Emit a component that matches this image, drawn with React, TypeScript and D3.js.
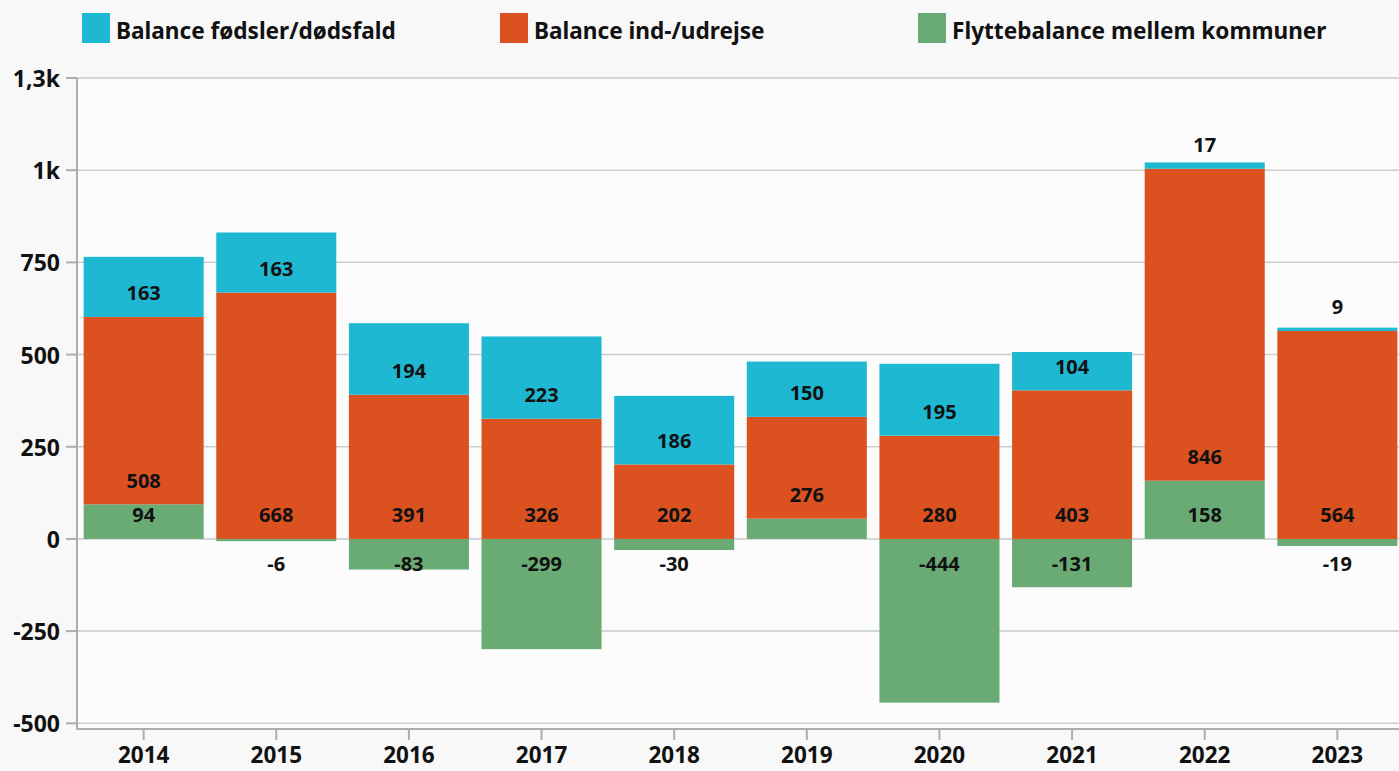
import { useEffect, useRef } from 'react'
import * as d3 from 'd3'

const years = ['2014', '2015', '2016', '2017', '2018', '2019', '2020', '2021', '2022', '2023']
const fodsler = [163, 163, 194, 223, 186, 150, 195, 104, 17, 9]
const indUdrejse = [508, 668, 391, 326, 202, 276, 280, 403, 846, 564]
const flytte = [94, -6, -83, -299, -30, 55, -444, -131, 158, -19]
const yTicks = [-500, -250, 0, 250, 500, 750, 1000, 1250]

const seriesNames = ['Flyttebalance mellem kommuner', 'Balance ind-/udrejse', 'Balance fødsler/dødsfald']
const seriesColors = ['#6aab75', '#db5220', '#1fb8d3']
const legendOrder = [2, 1, 0]

const W = 1399
const H = 771
const FONT = '"Noto Sans", "Open Sans", sans-serif'

const fmtTick = (v: number) => {
  if (Math.abs(v) >= 1000) {
    const k = Math.round(v / 100) / 10
    return (Number.isInteger(k) ? String(k) : k.toFixed(1).replace('.', ',')) + 'k'
  }
  return String(v)
}

export default function App() {
  const svgRef = useRef<SVGSVGElement>(null)

  useEffect(() => {
    if (!svgRef.current) return
    const svg = d3.select(svgRef.current)
    svg.selectAll('*').remove()

    const plot = { left: 77, top: 78, right: 1404, bottom: 729 }

    const x = d3.scaleBand<string>()
      .domain(years)
      .range([plot.left, plot.right])
      .paddingInner(0.095)
      .paddingOuter(0.05)

    const y = d3.scaleLinear()
      .domain([-500, 1250])
      .range([723.3, plot.top])

    svg.append('rect').attr('width', W).attr('height', H).attr('fill', '#f8f8f8')
    svg.append('rect')
      .attr('x', plot.left).attr('y', plot.top)
      .attr('width', W - plot.left).attr('height', plot.bottom - plot.top)
      .attr('fill', '#fcfcfc')

    // gridlines
    svg.append('g')
      .selectAll('line')
      .data(yTicks)
      .join('line')
      .attr('x1', plot.left).attr('x2', W)
      .attr('y1', d => y(d)).attr('y2', d => y(d))
      .attr('stroke', '#c9cdd1')
      .attr('stroke-width', 1.5)

    // stacked data
    const rows = years.map((yr, i) => ({ yr, vals: [flytte[i], indUdrejse[i], fodsler[i]] }))
    const segs: { yr: string; s: number; v: number; y0: number; y1: number; outer: boolean }[] = []
    rows.forEach(r => {
      let pos = 0
      let neg = 0
      const list: typeof segs = []
      r.vals.forEach((v, s) => {
        if (v >= 0) {
          list.push({ yr: r.yr, s, v, y0: pos, y1: pos + v, outer: false })
          pos += v
        } else {
          list.push({ yr: r.yr, s, v, y0: neg, y1: neg + v, outer: false })
          neg += v
        }
      })
      const lastPos = [...list].reverse().find(d => d.v >= 0)
      const lastNeg = [...list].reverse().find(d => d.v < 0)
      if (lastPos) lastPos.outer = true
      if (lastNeg) lastNeg.outer = true
      segs.push(...list)
    })

    svg.append('g')
      .selectAll('rect')
      .data(segs)
      .join('rect')
      .attr('x', d => x(d.yr)!)
      .attr('width', x.bandwidth())
      .attr('y', d => Math.min(y(d.y0), y(d.y1)))
      .attr('height', d => Math.abs(y(d.y0) - y(d.y1)))
      .attr('fill', d => seriesColors[d.s])

    // data labels at segment base
    svg.append('g')
      .selectAll('text')
      .data(segs.filter(d => d.outer || Math.abs(y(d.y0) - y(d.y1)) >= 28))
      .join('text')
      .attr('x', d => x(d.yr)! + x.bandwidth() / 2)
      .attr('y', d => d.v >= 0 ? y(d.y0) - 24 : y(d.y0) + 25)
      .attr('text-anchor', 'middle')
      .attr('dominant-baseline', 'central')
      .attr('font-family', FONT)
      .attr('font-weight', 700)
      .attr('font-size', 20)
      .attr('fill', '#111')
      .text(d => String(d.v))

    // y axis
    const ya = svg.append('g')
    ya.append('line')
      .attr('x1', plot.left).attr('x2', plot.left)
      .attr('y1', plot.top).attr('y2', plot.bottom)
      .attr('stroke', '#a9aeb3').attr('stroke-width', 2)
    ya.selectAll('line.t')
      .data(yTicks)
      .join('line')
      .attr('class', 't')
      .attr('x1', 66).attr('x2', plot.left)
      .attr('y1', d => y(d)).attr('y2', d => y(d))
      .attr('stroke', '#a9aeb3').attr('stroke-width', 2)
    ya.selectAll('text')
      .data(yTicks)
      .join('text')
      .attr('x', 60)
      .attr('y', d => y(d))
      .attr('text-anchor', 'end')
      .attr('dominant-baseline', 'central')
      .attr('font-family', FONT)
      .attr('font-weight', 700)
      .attr('font-size', 23)
      .attr('fill', '#111')
      .text(d => fmtTick(d))

    // x axis
    const xa = svg.append('g')
    xa.append('line')
      .attr('x1', plot.left - 1).attr('x2', W)
      .attr('y1', plot.bottom).attr('y2', plot.bottom)
      .attr('stroke', '#a9aeb3').attr('stroke-width', 2)
    xa.selectAll('line.t')
      .data(years)
      .join('line')
      .attr('class', 't')
      .attr('x1', d => x(d)! + x.bandwidth() / 2).attr('x2', d => x(d)! + x.bandwidth() / 2)
      .attr('y1', plot.bottom).attr('y2', plot.bottom + 11)
      .attr('stroke', '#a9aeb3').attr('stroke-width', 2)
    xa.selectAll('text')
      .data(years)
      .join('text')
      .attr('x', d => x(d)! + x.bandwidth() / 2)
      .attr('y', 754)
      .attr('text-anchor', 'middle')
      .attr('dominant-baseline', 'central')
      .attr('font-family', FONT)
      .attr('font-weight', 700)
      .attr('font-size', 22.5)
      .attr('fill', '#111')
      .text(d => d)

    // legend
    const lg = svg.append('g')
      .selectAll('g')
      .data(legendOrder)
      .join('g')
      .attr('transform', (_, i) => `translate(${82 + i * 418},13)`)
    lg.append('rect')
      .attr('width', 28).attr('height', 30)
      .attr('fill', s => seriesColors[s])
    lg.append('text')
      .attr('x', 34)
      .attr('y', 26)
      .attr('font-family', FONT)
      .attr('font-weight', 700)
      .attr('font-size', 22.6)
      .attr('fill', '#111')
      .text(s => seriesNames[s])
  }, [])

  return (
    <svg ref={svgRef} width={W} height={H} style={{ position: 'fixed', left: 0, top: 0 }} />
  )
}
